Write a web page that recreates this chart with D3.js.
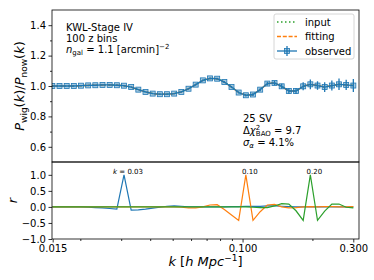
<!DOCTYPE html>
<html>
<head>
<meta charset="utf-8">
<script src="https://cdn.jsdelivr.net/npm/d3@7"></script>
<style>
  body { margin: 0; background: #fff; }
  svg { display: block; font-family: "DejaVu Sans", sans-serif; }
</style>
</head>
<body>
<svg id="chart" width="374" height="280"></svg>
<script>
// k bins [h/Mpc]
const kVals = [0.01515, 0.01627, 0.01747, 0.01875, 0.02014, 0.02162, 0.02321, 0.02492, 0.02676, 0.02873,
  0.03085, 0.03312, 0.03556, 0.03818, 0.04100, 0.04402, 0.04726, 0.05074, 0.05448, 0.05850,
  0.06281, 0.06744, 0.07241, 0.07774, 0.08347, 0.08962, 0.09623, 0.10332, 0.11093, 0.11911,
  0.12788, 0.13731, 0.14743, 0.15829, 0.16996, 0.18248, 0.19593, 0.21037, 0.22588, 0.24252,
  0.26039, 0.27958, 0.30018];

// Pwig/Pnow
const ratioObs = [1.000, 1.000, 1.000, 1.000, 1.002, 1.004, 1.005, 1.007, 1.007, 1.005,
  1.002, 0.993, 0.976, 0.961, 0.950, 0.946, 0.946, 0.950, 0.961, 0.982,
  1.009, 1.037, 1.050, 1.048, 1.026, 0.993, 0.957, 0.939, 0.944, 0.976,
  1.016, 1.020, 0.998, 0.967, 0.967, 0.998, 1.011, 1.003, 0.993, 1.003,
  1.011, 1.007, 1.003];
const ratioErr = [0.002, 0.002, 0.002, 0.002, 0.002, 0.002, 0.002, 0.002, 0.003, 0.003,
  0.003, 0.003, 0.003, 0.003, 0.003, 0.004, 0.004, 0.004, 0.004, 0.005,
  0.005, 0.005, 0.006, 0.006, 0.006, 0.007, 0.007, 0.008, 0.009, 0.010,
  0.012, 0.014, 0.016, 0.018, 0.020, 0.026, 0.032, 0.028, 0.032, 0.033,
  0.038, 0.034, 0.043];
const ratioInput = ratioObs.slice();
const ratioFit = ratioObs.slice();

// correlation rows
const rK003 = [0.00, 0.00, 0.00, 0.00, 0.00, -0.01, -0.02, -0.03, -0.05, -0.07,
  1.00, -0.10, -0.09, -0.07, -0.04, -0.01, 0.02, 0.03, 0.02, 0.00,
  0.00, 0.00, 0.00, 0.00, 0.00, 0.01, 0.01, 0.02, 0.02, 0.02,
  0.03, 0.03, 0.02, 0.01, 0.00, 0.00, 0.00, 0.00, 0.00, 0.00,
  0.00, 0.00, 0.00];
const rK010 = [0.00, 0.00, 0.00, 0.00, 0.00, 0.00, 0.00, 0.00, 0.00, 0.00,
  0.00, 0.00, 0.00, 0.00, 0.00, 0.00, 0.00, 0.00, -0.01, -0.03,
  -0.03, 0.00, 0.06, 0.07, -0.08, -0.25, -0.42, 1.00, -0.42, -0.15,
  0.06, 0.08, 0.00, -0.03, -0.02, 0.00, 0.01, 0.00, 0.01, 0.01,
  0.00, 0.00, 0.01];
const rK020 = [0.00, 0.00, 0.00, 0.00, 0.00, 0.00, 0.00, 0.00, 0.00, 0.00,
  0.00, 0.00, 0.00, 0.00, 0.00, 0.00, 0.00, 0.00, 0.00, 0.00,
  0.00, 0.00, 0.00, 0.00, 0.00, 0.00, 0.00, 0.00, -0.01, -0.02,
  -0.02, 0.03, 0.10, 0.09, -0.12, -0.42, 1.00, -0.42, -0.13, 0.09,
  0.09, -0.01, -0.03];

const xTicks = [0.0152, 0.1, 0.3];
const xMinor = [0.02, 0.03, 0.04, 0.05, 0.06, 0.07, 0.08, 0.09, 0.2];
const topTicks = [0.6, 0.8, 1.0, 1.2, 1.4];
const topMinor = [0.7, 0.9, 1.1, 1.3];
const botTicks = [-1.0, -0.5, 0.0, 0.5, 1.0];
const peakLabels = [{k: 0.03085, text: "0.03", math: true}, {k: 0.10332, text: "0.10"}, {k: 0.19593, text: "0.20"}];

const BLUE = "#1f77b4", ORANGE = "#ff7f0e", GREEN = "#2ca02c";

const svg = d3.select("#chart");
const L = 52, R = 359, T = 10, MID = 162, B = 239;

const x = d3.scaleLog().domain([0.0151, 0.3175]).range([L, R]);
const yTop = d3.scaleLinear().domain([0.5, 1.5]).range([MID, T]);
const yBot = d3.scaleLinear().domain([-1.0, 1.4]).range([B, MID]);

const defs = svg.append("defs");
defs.append("clipPath").attr("id", "clipTop").append("rect")
  .attr("x", L).attr("y", T).attr("width", R - L).attr("height", MID - T);
defs.append("clipPath").attr("id", "clipBot").append("rect")
  .attr("x", L).attr("y", MID).attr("width", R - L).attr("height", B - MID);

const styleAxis = g => {
  g.select(".domain").remove();
  g.selectAll("line").attr("stroke", "#000").attr("stroke-width", 0.8);
  g.selectAll("text").attr("fill", "#000").attr("font-size", 10).attr("font-family", "DejaVu Sans");
};

// ---- top panel ----
const topG = svg.append("g").attr("clip-path", "url(#clipTop)");
const lineTop = vals => d3.line().x((d, i) => x(kVals[i])).y(d => yTop(d))(vals);

topG.append("path").attr("d", lineTop(ratioInput)).attr("fill", "none")
  .attr("stroke", GREEN).attr("stroke-width", 1.5).attr("stroke-dasharray", "1.5,2.5");
topG.append("path").attr("d", lineTop(ratioFit)).attr("fill", "none")
  .attr("stroke", ORANGE).attr("stroke-width", 1.5).attr("stroke-dasharray", "5.5,2.4");
topG.append("path").attr("d", lineTop(ratioObs)).attr("fill", "none")
  .attr("stroke", BLUE).attr("stroke-width", 1.3);

topG.selectAll(".err").data(ratioObs).enter().append("line")
  .attr("x1", (d, i) => x(kVals[i])).attr("x2", (d, i) => x(kVals[i]))
  .attr("y1", (d, i) => yTop(d - ratioErr[i])).attr("y2", (d, i) => yTop(d + ratioErr[i]))
  .attr("stroke", BLUE).attr("stroke-width", 1.3);

topG.selectAll(".mk").data(ratioObs).enter().append("rect")
  .attr("x", (d, i) => x(kVals[i]) - 2.5).attr("y", d => yTop(d) - 2.5)
  .attr("width", 5).attr("height", 5)
  .attr("fill", BLUE).attr("fill-opacity", 0.4)
  .attr("stroke", BLUE).attr("stroke-width", 0.8);

svg.append("g").attr("transform", `translate(${L},0)`)
  .call(d3.axisLeft(yTop).tickValues(topTicks).tickSize(3.5).tickPadding(2.5).tickFormat(d3.format(".1f")))
  .call(styleAxis);
svg.append("g").attr("transform", `translate(${L},0)`)
  .call(d3.axisLeft(yTop).tickValues(topMinor).tickSize(2).tickFormat(""))
  .call(styleAxis);

// ---- bottom panel ----
const botG = svg.append("g").attr("clip-path", "url(#clipBot)");
const lineBot = d3.line().x((d, i) => x(kVals[i])).y(d => yBot(d));
[[rK003, BLUE], [rK010, ORANGE], [rK020, GREEN]].forEach(([vals, c]) => {
  botG.append("path").attr("d", lineBot(vals)).attr("fill", "none")
    .attr("stroke", c).attr("stroke-width", 1.2);
});

svg.append("g").attr("transform", `translate(${L},0)`)
  .call(d3.axisLeft(yBot).tickValues(botTicks).tickSize(3.5).tickPadding(2.5).tickFormat(d3.format(".1f")))
  .call(styleAxis);

svg.append("g").attr("transform", `translate(0,${B})`)
  .call(d3.axisBottom(x).tickValues(xTicks).tickSize(3.5).tickPadding(2.5).tickFormat(d3.format(".3f")))
  .call(styleAxis);
svg.append("g").attr("transform", `translate(0,${B})`)
  .call(d3.axisBottom(x).tickValues(xMinor).tickSize(2).tickFormat(""))
  .call(styleAxis);

peakLabels.forEach(p => {
  const t = svg.append("text").attr("x", x(p.k) + 4).attr("y", 174)
    .attr("text-anchor", "middle").attr("font-size", 7).attr("fill", "#000");
  if (p.math) {
    t.append("tspan").attr("font-style", "italic").text("k");
    t.append("tspan").text(" = " + p.text);
  } else t.text(p.text);
});

// frames
[[T, MID], [MID, B]].forEach(([a, b]) => {
  svg.append("rect").attr("x", L).attr("y", a).attr("width", R - L).attr("height", b - a)
    .attr("fill", "none").attr("stroke", "#000").attr("stroke-width", 0.8);
});

// ---- annotations ----
const ann = (xx, yy) => svg.append("text").attr("x", xx).attr("y", yy)
  .attr("font-size", 10).attr("fill", "#000");
ann(66, 30.5).text("KWL-Stage IV");
ann(66, 41.5).text("100 z bins");
const ng = ann(66, 52.5);
ng.append("tspan").attr("font-style", "italic").text("n");
ng.append("tspan").attr("font-size", 7).attr("dy", 2).text("gal");
ng.append("tspan").attr("dy", -2).text(" = 1.1 [arcmin]");
ng.append("tspan").attr("font-size", 7).attr("dy", -4).text("\u22122");

ann(243, 122).text("25 SV");
const dc = ann(243, 133.5);
dc.append("tspan").text("\u0394");
dc.append("tspan").attr("font-style", "italic").text("\u03c7");
dc.append("tspan").attr("font-size", 7).attr("dy", -4).text("2");
dc.append("tspan").attr("font-size", 7).attr("dx", -4.4).attr("dy", 6.5).text("BAO");
dc.append("tspan").attr("dy", -2.5).text(" = 9.7");
const sa = ann(243, 145.5);
sa.append("tspan").attr("font-style", "italic").text("\u03c3");
sa.append("tspan").attr("font-style", "italic").attr("font-size", 7).attr("dy", 2).text("\u03b1");
sa.append("tspan").attr("dy", -2).text(" = 4.1%");

// axis labels
const yl = svg.append("text").attr("transform", `translate(24,${(T + MID) / 2}) rotate(-90)`)
  .attr("text-anchor", "middle").attr("font-size", 13).attr("fill", "#000");
yl.append("tspan").attr("font-style", "italic").text("P");
yl.append("tspan").attr("font-size", 9).attr("dy", 3).text("wig");
yl.append("tspan").attr("dy", -3).text("(");
yl.append("tspan").attr("font-style", "italic").text("k");
yl.append("tspan").text(")/");
yl.append("tspan").attr("font-style", "italic").text("P");
yl.append("tspan").attr("font-size", 9).attr("dy", 3).text("now");
yl.append("tspan").attr("dy", -3).text("(");
yl.append("tspan").attr("font-style", "italic").text("k");
yl.append("tspan").text(")");

svg.append("text").attr("transform", `translate(17,${(MID + B) / 2}) rotate(-90)`)
  .attr("text-anchor", "middle").attr("font-size", 13).attr("font-style", "italic").text("r");

const xl = svg.append("text").attr("x", (L + R) / 2).attr("y", 266)
  .attr("text-anchor", "middle").attr("font-size", 13).attr("fill", "#000");
xl.append("tspan").attr("font-style", "italic").text("k");
xl.append("tspan").text(" [");
xl.append("tspan").attr("font-style", "italic").text("h Mpc");
xl.append("tspan").attr("font-size", 9).attr("dy", -5).text("\u22121");
xl.append("tspan").attr("dy", 5).text("]");

// ---- legend ----
const lg = svg.append("g");
lg.append("rect").attr("x", 274).attr("y", 14).attr("width", 80).attr("height", 45).attr("rx", 2)
  .attr("fill", "#fff").attr("fill-opacity", 0.8).attr("stroke", "#ccc").attr("stroke-width", 0.8);
const legendItems = [
  {label: "input", color: GREEN, dash: "1.5,2.5"},
  {label: "fitting", color: ORANGE, dash: "4,1.8"},
  {label: "observed", color: BLUE, dash: null}
];
legendItems.forEach((it, i) => {
  const yy = 22 + i * 14.5;
  lg.append("line").attr("x1", 277).attr("x2", 297).attr("y1", yy).attr("y2", yy)
    .attr("stroke", it.color).attr("stroke-width", 1.3).attr("stroke-dasharray", it.dash);
  if (!it.dash) {
    lg.append("line").attr("x1", 287).attr("x2", 287).attr("y1", yy - 5).attr("y2", yy + 5)
      .attr("stroke", it.color).attr("stroke-width", 1.3);
    lg.append("rect").attr("x", 284.5).attr("y", yy - 2.5).attr("width", 5).attr("height", 5)
      .attr("fill", it.color).attr("fill-opacity", 0.4).attr("stroke", it.color).attr("stroke-width", 0.8);
  }
  lg.append("text").attr("x", 305).attr("y", yy + 3.5).attr("font-size", 10).attr("fill", "#000").text(it.label);
});
</script>
</body>
</html>
